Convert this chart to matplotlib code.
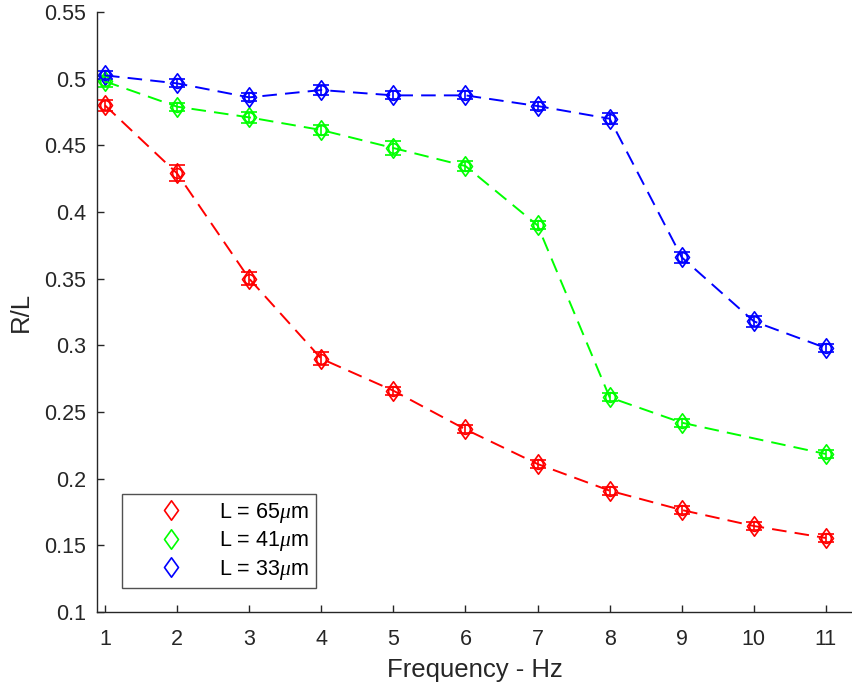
import numpy as np
import matplotlib
matplotlib.use("Agg")
import matplotlib.pyplot as plt
from matplotlib.path import Path
from matplotlib.lines import Line2D

plt.rcParams['font.family'] = ['Liberation Sans', 'DejaVu Sans']
plt.rcParams['mathtext.fontset'] = 'custom'
plt.rcParams['mathtext.it'] = 'Liberation Serif:italic'

freq = [1, 2, 3, 4, 5, 6, 7, 8, 9, 10, 11]
freq_41 = [1, 2, 3, 4, 5, 6, 7, 8, 9, 11]

r65 = [0.480, 0.429, 0.350, 0.290, 0.266, 0.237, 0.211, 0.191, 0.1765, 0.1645, 0.1555]
e65 = [0.004, 0.006, 0.005, 0.005, 0.003, 0.003, 0.003, 0.003, 0.003, 0.003, 0.003]

r41 = [0.498, 0.479, 0.471, 0.4615, 0.448, 0.4345, 0.390, 0.261, 0.242, 0.2185]
e41 = [0.004, 0.003, 0.004, 0.004, 0.005, 0.004, 0.003, 0.003, 0.003, 0.003]

r33 = [0.5025, 0.4965, 0.486, 0.4915, 0.4875, 0.4875, 0.4795, 0.470, 0.366, 0.318, 0.298]
e33 = [0.003, 0.003, 0.003, 0.004, 0.003, 0.003, 0.003, 0.004, 0.004, 0.004, 0.003]

labels = [r'L = 65$\mu$m', r'L = 41$\mu$m', r'L = 33$\mu$m']
colors = ['#ff0000', '#00ff00', '#0000ff']

diamond = Path([(0, 1), (0.72, 0), (0, -1), (-0.72, 0), (0, 1)],
               [Path.MOVETO, Path.LINETO, Path.LINETO, Path.LINETO, Path.CLOSEPOLY])

fig = plt.figure(figsize=(8.53, 6.92), dpi=100)
ax = fig.add_axes([0.1137, 0.1156, 0.885, 0.867])

series = [(freq, r65, e65), (freq_41, r41, e41), (freq, r33, e33)]
for (x, y, e), c in zip(series, colors):
    ax.errorbar(x, y, yerr=e, color=c, ls=(0, (7.5, 4.2)), lw=1.4,
                marker='o', ms=7, mfc='none', mec=c, mew=1.2,
                capsize=6, capthick=1.2, elinewidth=1.2)
    ax.plot(x, y, ls='none', marker=diamond, ms=14, mfc='none', mec=c, mew=1.2)

ax.set_xlim(0.889, 11.36)
ax.set_ylim(0.1, 0.55)
ax.set_xticks(range(1, 12))
ax.set_yticks([0.1, 0.15, 0.2, 0.25, 0.3, 0.35, 0.4, 0.45, 0.5, 0.55])
ax.set_yticklabels(['0.1', '0.15', '0.2', '0.25', '0.3', '0.35', '0.4', '0.45', '0.5', '0.55'])
for s in ['top', 'right']:
    ax.spines[s].set_visible(False)
for s in ['left', 'bottom']:
    ax.spines[s].set_color('#262626')
    ax.spines[s].set_linewidth(1.0)
ax.tick_params(direction='in', length=5, width=1.0, colors='#262626',
               labelsize=15.5)
ax.tick_params(axis='x', pad=12)
ax.tick_params(axis='y', pad=8)
ax.set_xlabel('Frequency - Hz', fontsize=18.5, color='#262626', labelpad=6)
ax.set_ylabel('R/L', fontsize=18.5, color='#262626', labelpad=8)

handles = [Line2D([], [], ls='none', marker=diamond, ms=14, mfc='none', mec=c, mew=1.2)
           for c in colors]
leg = ax.legend(handles, labels, loc='lower left', bbox_to_anchor=(0.0325, 0.04),
                fontsize=15.5, frameon=True, fancybox=False, edgecolor='#262626',
                handlelength=4.0, handletextpad=0.25, borderpad=0.3, labelspacing=0.2,
                borderaxespad=0.0)
leg.get_frame().set_linewidth(1.0)

fig.savefig('out.png', dpi=100)
